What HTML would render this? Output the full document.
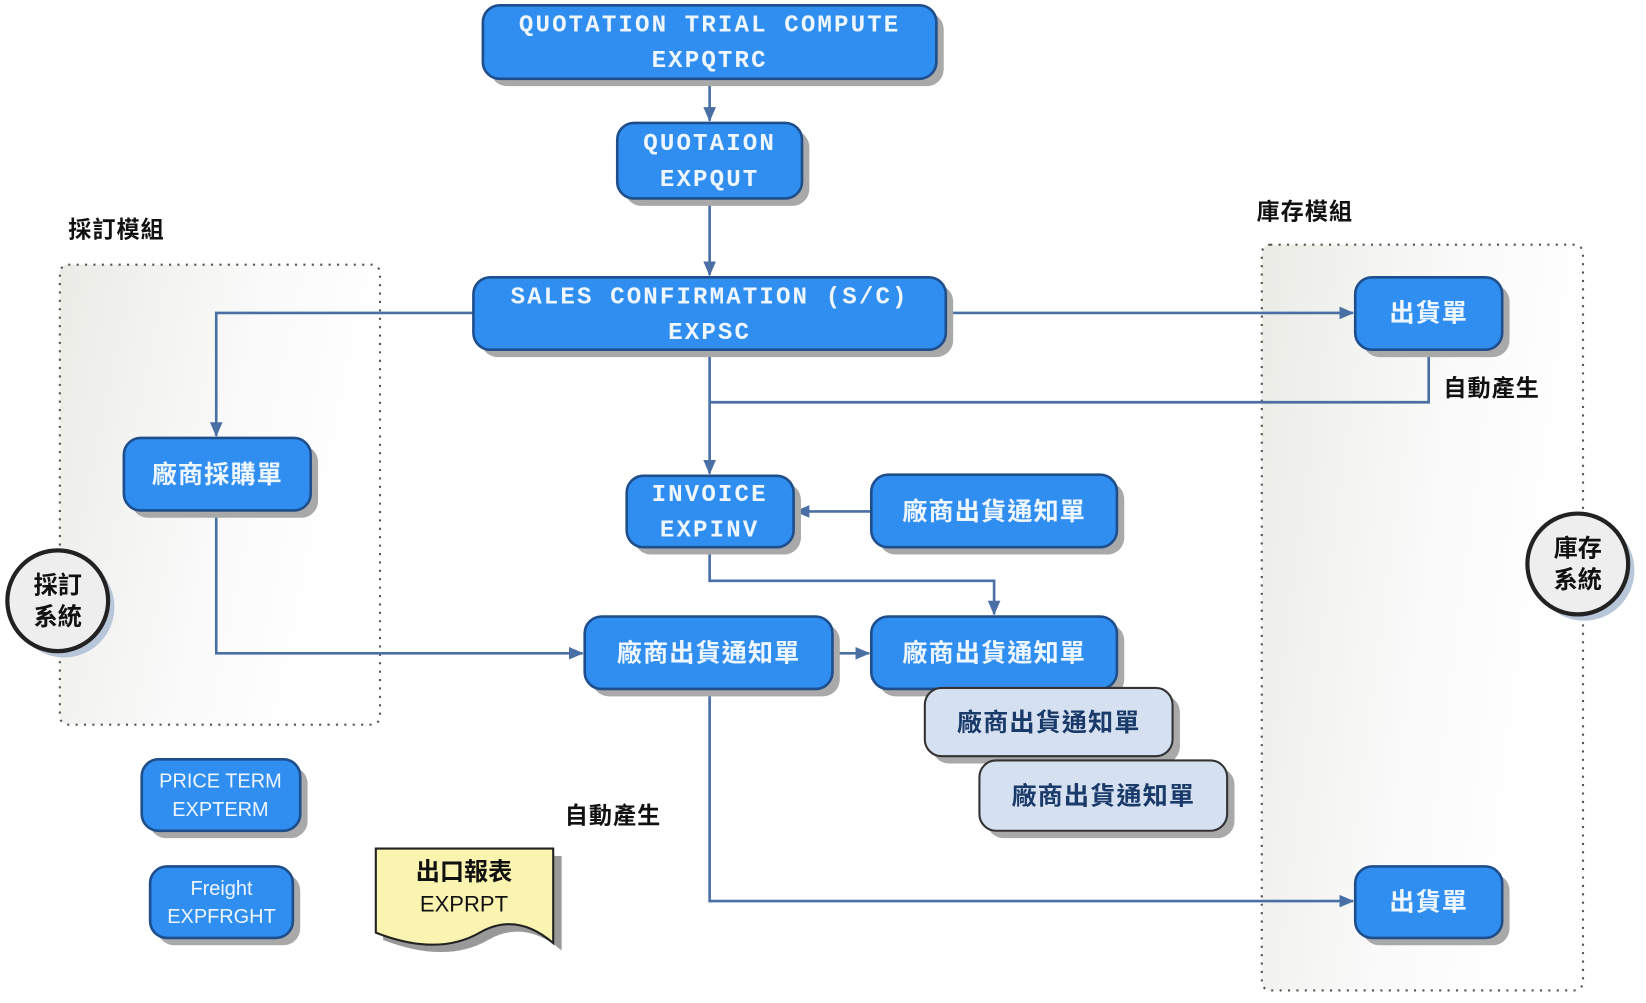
<!DOCTYPE html>
<html><head><meta charset="utf-8"><style>
html,body{margin:0;padding:0;background:#fff;width:1646px;height:1003px;overflow:hidden}
svg{display:block}
text{font-family:"Liberation Sans","Noto Sans CJK TC",sans-serif;font-weight:bold}
.m{font-family:"Liberation Mono","Noto Sans CJK TC",monospace;font-weight:bold;letter-spacing:2px}
.c{letter-spacing:1px}
</style></head><body>
<svg width="1646" height="1003" viewBox="0 0 1568 955" preserveAspectRatio="none" xmlns="http://www.w3.org/2000/svg">
<defs>
<linearGradient id="g" x1="0" y1="0" x2="1" y2="0.3">
<stop offset="0" stop-color="#ebebe6"/><stop offset="0.6" stop-color="#fafafa"/><stop offset="1" stop-color="#ffffff"/>
</linearGradient>
<marker id="a" markerWidth="14" markerHeight="14" refX="13" refY="7" orient="auto" markerUnits="userSpaceOnUse">
<path d="M0,1 L14,7 L0,13 z" fill="#4a6fa5"/></marker>
</defs>
<rect x="57" y="252" width="305" height="438" rx="8" fill="url(#g)" stroke="#555" stroke-width="2" stroke-dasharray="2,6"/>
<rect x="1202" y="233" width="306" height="710" rx="8" fill="url(#g)" stroke="#555" stroke-width="2" stroke-dasharray="2,6"/>
<text class="c" x="65" y="226" font-size="22" fill="#111">採訂模組</text>
<text class="c" x="1197" y="209" font-size="22" fill="#111">庫存模組</text>
<text class="c" x="1375" y="377" font-size="22" fill="#111">自動產生</text>
<text class="c" x="538" y="784" font-size="22" fill="#111">自動產生</text>
<g stroke="#4a6fa5" stroke-width="2.5" fill="none">
<path d="M676,75 V115" marker-end="url(#a)"/>
<path d="M676,189 V262" marker-end="url(#a)"/>
<path d="M451,298 H206 V415" marker-end="url(#a)"/>
<path d="M901,298 H1289" marker-end="url(#a)"/>
<path d="M1361,333 V383 H676"/>
<path d="M676,333 V451" marker-end="url(#a)"/>
<path d="M830,487 H758" marker-end="url(#a)"/>
<path d="M676,521 V553 H947 V585" marker-end="url(#a)"/>
<path d="M206,486 V622 H555" marker-end="url(#a)"/>
<path d="M793,622 H828" marker-end="url(#a)"/>
<path d="M676,656 V858 H1289" marker-end="url(#a)"/>
</g>
<g fill="#a9a9a9">
<rect x="467" y="12" width="432" height="70" rx="16"/>
<rect x="595" y="124" width="176" height="72" rx="16"/>
<rect x="458" y="271" width="450" height="69" rx="16"/>
<rect x="1298" y="271" width="140" height="69" rx="16"/>
<rect x="1298" y="832" width="140" height="68" rx="16"/>
<rect x="125" y="424" width="178" height="69" rx="16"/>
<rect x="604" y="460" width="159" height="68" rx="16"/>
<rect x="837" y="459" width="234" height="69" rx="16"/>
<rect x="564" y="594" width="236" height="69" rx="16"/>
<rect x="837" y="594" width="234" height="69" rx="16"/>
<rect x="888" y="662" width="236" height="65" rx="16"/>
<rect x="940" y="731" width="236" height="67" rx="16"/>
<rect x="142" y="730" width="151" height="68" rx="16"/>
<rect x="150" y="832" width="136" height="68" rx="16"/>
</g>
<g fill="#2f8ef0" stroke="#1e4f8c" stroke-width="2.5">
<rect x="460" y="5" width="432" height="70" rx="16"/>
<rect x="588" y="117" width="176" height="72" rx="16"/>
<rect x="451" y="264" width="450" height="69" rx="16"/>
<rect x="1291" y="264" width="140" height="69" rx="16"/>
<rect x="1291" y="825" width="140" height="68" rx="16"/>
<rect x="118" y="417" width="178" height="69" rx="16"/>
<rect x="597" y="453" width="159" height="68" rx="16"/>
<rect x="830" y="452" width="234" height="69" rx="16"/>
<rect x="557" y="587" width="236" height="69" rx="16"/>
<rect x="830" y="587" width="234" height="69" rx="16"/>
<rect x="135" y="723" width="151" height="68" rx="16"/>
<rect x="143" y="825" width="136" height="68" rx="16"/>
</g>
<g fill="#d5e1f1" stroke="#333" stroke-width="2">
<rect x="881" y="655" width="236" height="65" rx="16"/>
<rect x="933" y="724" width="236" height="67" rx="16"/>
</g>
<g fill="#eef6ff" text-anchor="middle">
<text class="m" x="676" y="30" font-size="23">QUOTATION TRIAL COMPUTE</text>
<text class="m" x="676" y="64" font-size="23">EXPQTRC</text>
<text class="m" x="676" y="143" font-size="23">QUOTAION</text>
<text class="m" x="676" y="177" font-size="23">EXPQUT</text>
<text class="m" x="676" y="289" font-size="23">SALES CONFIRMATION (S/C)</text>
<text class="m" x="676" y="323" font-size="23">EXPSC</text>
<text class="m" x="676" y="477" font-size="23">INVOICE</text>
<text class="m" x="676" y="511" font-size="23">EXPINV</text>
<text class="c" x="1361" y="306" font-size="24">出貨單</text>
<text class="c" x="1361" y="867" font-size="24">出貨單</text>
<text class="c" x="207" y="460" font-size="24">廠商採購單</text>
<text class="c" x="947" y="495" font-size="24">廠商出貨通知單</text>
<text class="c" x="675" y="630" font-size="24">廠商出貨通知單</text>
<text class="c" x="947" y="630" font-size="24">廠商出貨通知單</text>
<text x="210" y="750" font-size="19" style="font-weight:normal">PRICE TERM</text>
<text x="210" y="777" font-size="19" style="font-weight:normal">EXPTERM</text>
<text x="211" y="852" font-size="19" style="font-weight:normal">Freight</text>
<text x="211" y="879" font-size="19" style="font-weight:normal">EXPFRGHT</text>
</g>
<g fill="#1a3a6a" text-anchor="middle">
<text class="c" x="999" y="696" font-size="24">廠商出貨通知單</text>
<text class="c" x="1051" y="766" font-size="24">廠商出貨通知單</text>
</g>
<path d="M365,815 H535 V905 Q500,875 465,895 Q425,918 365,895 Z" fill="#999"/>
<path d="M358,808 H527 V898 Q492,868 457,888 Q417,911 358,888 Z" fill="#fbf4b0" stroke="#222" stroke-width="2"/>
<text x="442" y="838" font-size="23" text-anchor="middle" fill="#111">出口報表</text>
<text x="442" y="868" font-size="21" text-anchor="middle" fill="#111" style="font-weight:normal">EXPRPT</text>
<circle cx="61" cy="578" r="48" fill="#b8c6da"/>
<circle cx="55" cy="572" r="48" fill="#eeeeee" stroke="#222" stroke-width="4"/>
<text x="55" y="565" font-size="23" text-anchor="middle" fill="#111">採訂</text>
<text x="55" y="595" font-size="23" text-anchor="middle" fill="#111">系統</text>
<circle cx="1509" cy="543" r="48" fill="#b8c6da"/>
<circle cx="1503" cy="537" r="48" fill="#eeeeee" stroke="#222" stroke-width="4"/>
<text x="1503" y="530" font-size="23" text-anchor="middle" fill="#111">庫存</text>
<text x="1503" y="560" font-size="23" text-anchor="middle" fill="#111">系統</text>
</svg>
</body></html>
